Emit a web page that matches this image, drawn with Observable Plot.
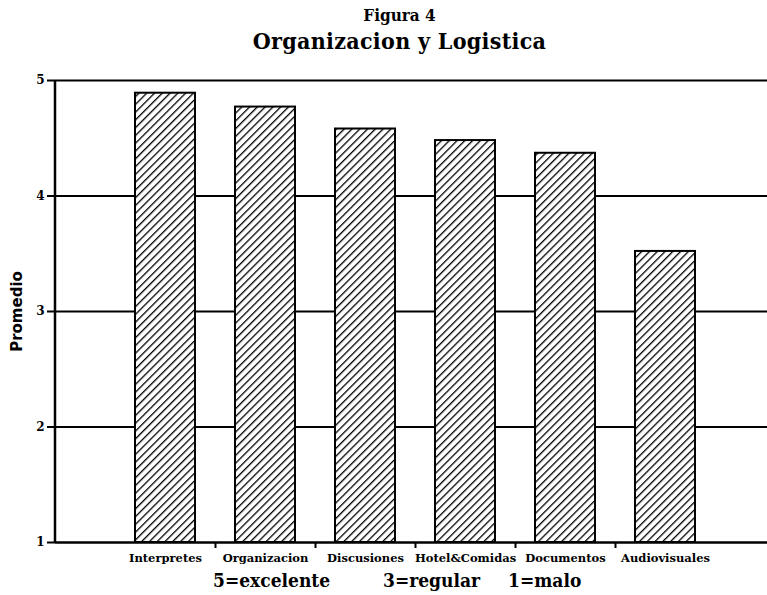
<!DOCTYPE html>
<html>
<head>
<meta charset="utf-8">
<script src="https://cdn.jsdelivr.net/npm/d3@7"></script>
<script src="https://cdn.jsdelivr.net/npm/@observablehq/plot@0.6"></script>
<style>
  body { margin: 0; background: #fff; width: 767px; height: 595px; overflow: hidden; font-family: "DejaVu Serif", serif; }
  #title { width: 767px; box-sizing: border-box; padding-left: 32px; text-align: center; height: 60px; padding-top: 5px; }
  #title .t1 { font-family: "DejaVu Serif Condensed", "DejaVu Serif", serif; font-weight: bold; font-size: 17px; line-height: 20px; }
  #title .t2 { font-family: "DejaVu Serif Condensed", "DejaVu Serif", serif; font-weight: bold; font-size: 23px; line-height: 27px; margin-top: 2px; letter-spacing: 0.3px; }
  #legend { position: relative; height: 27px; font-family: "DejaVu Serif Condensed", "DejaVu Serif", serif; font-weight: bold; font-size: 19px; }
  #legend span { position: absolute; top: 1px; }
</style>
</head>
<body>
<div id="title"><div class="t1">Figura 4</div><div class="t2">Organizacion y Logistica</div></div>
<div id="chart"></div>
<div id="legend"></div>
<script>
const categories = ["Interpretes", "Organizacion", "Discusiones", "Hotel&Comidas", "Documentos", "Audiovisuales"];
const promedio = [4.89, 4.77, 4.58, 4.48, 4.37, 3.52];
const yTicks = [1, 2, 3, 4, 5];
const gridValues = [2, 3, 4, 5];
const yLabel = "Promedio";
const scaleNotes = ["5=excelente", "3=regular", "1=malo"];

const data = categories.map((c, i) => ({cat: c, value: promedio[i]}));

const W = 767, H = 508, mL = 55, mT = 20, mB = 26;

const plot = Plot.plot({
  width: W,
  height: H,
  marginLeft: mL,
  marginRight: 0,
  marginTop: mT,
  marginBottom: mB,
  style: {background: "white", color: "black", fontFamily: "DejaVu Serif, serif", fontWeight: "bold", overflow: "visible"},
  x: {type: "band", domain: categories, range: [115, 715], paddingInner: 0.4, paddingOuter: 0.2, label: null},
  y: {domain: [1, 5], label: null},
  marks: [
    Plot.ruleY(gridValues, {stroke: "black", strokeWidth: 2}),
    Plot.barY(data, {x: "cat", y1: 1, y2: "value", fill: "url(#hatch)", stroke: "black", strokeWidth: 2}),
    Plot.ruleY([1], {stroke: "black", strokeWidth: 2.5}),
    Plot.axisY({ticks: yTicks, tickFormat: d3.format("d"), tickSize: 8, tickPadding: 3, fontSize: 12, fontWeight: "bold", strokeWidth: 2,
      label: yLabel, labelAnchor: "center", labelOffset: 44}),
    Plot.axisX({ticks: categories.slice(0, 5), tickSize: 6, dx: 50, text: null, strokeWidth: 2}),
    Plot.axisX({tickSize: 0, tickPadding: 11, fontSize: 11.5, fontWeight: "bold", label: null})
  ]
});

const svg = d3.select(plot);
const defs = svg.insert("defs", ":first-child");
const pat = defs.append("pattern")
  .attr("id", "hatch")
  .attr("patternUnits", "userSpaceOnUse")
  .attr("width", 5.5).attr("height", 5.5)
  .attr("patternTransform", "rotate(45)");
pat.append("rect").attr("width", 5.5).attr("height", 5.5).attr("fill", "white");
pat.append("line").attr("x1", 0).attr("y1", 0).attr("x2", 0).attr("y2", 5.5)
  .attr("stroke", "black").attr("stroke-width", 2.6);

// left axis line
const ys = plot.scale("y");
svg.append("line")
  .attr("x1", mL).attr("x2", mL)
  .attr("y1", ys.apply(5)).attr("y2", ys.apply(1))
  .attr("stroke", "black").attr("stroke-width", 2.5);

// y label: remove arrow, adjust font
svg.selectAll("text").filter(function() { return this.textContent.includes(yLabel); })
  .each(function() {
    const t = d3.select(this);
    t.selectAll("tspan").remove();
    t.text(yLabel);
  })
  .attr("font-size", 15).attr("font-family", "DejaVu Sans, sans-serif").attr("font-weight", "bold");

document.getElementById("chart").appendChild(plot);

const legend = d3.select("#legend");
const lefts = [213, 383, 508];
scaleNotes.forEach((t, i) => legend.append("span").style("left", lefts[i] + "px").text(t));
</script>
</body>
</html>
